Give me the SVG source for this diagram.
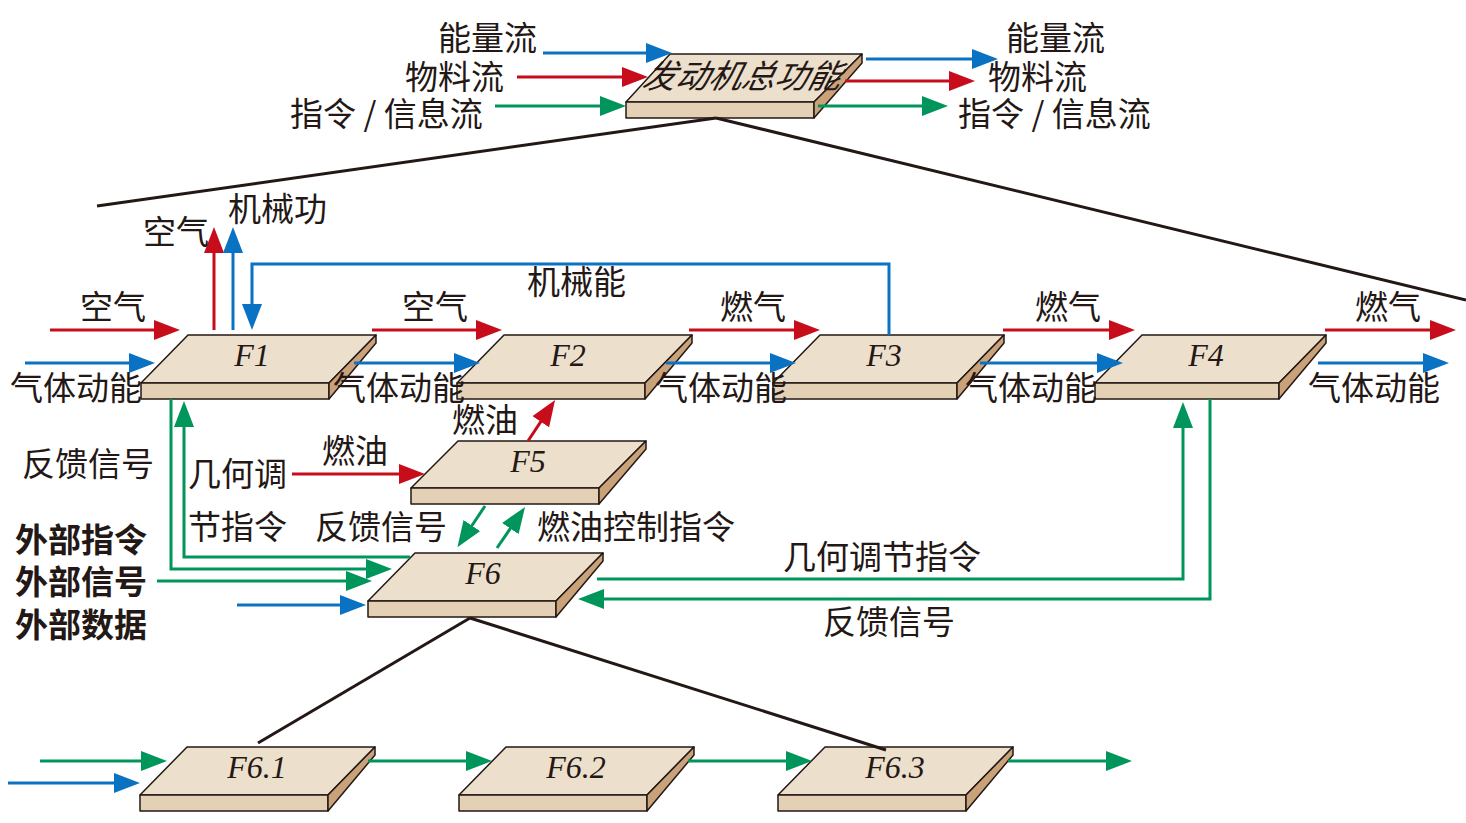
<svg xmlns="http://www.w3.org/2000/svg" width="1466" height="823" viewBox="0 0 1466 823">
<style>
.top{fill:#ecdfcc;stroke:#231815;stroke-width:1.5;stroke-linejoin:round}
.front{fill:#e3d0b5;stroke:#231815;stroke-width:1.5;stroke-linejoin:round}
.side{fill:#c9a27a;stroke:#231815;stroke-width:1.5;stroke-linejoin:round}
.fl{font-family:"Liberation Serif",serif;font-style:italic;font-size:32px;fill:#231815;text-anchor:middle}
.t{font-family:"Noto Sans CJK SC","Noto Sans",sans-serif;font-size:33px;fill:#231815}
.b{font-weight:bold}
.r{stroke:#c70d1b;stroke-width:3;fill:none}
.bl{stroke:#0a72c2;stroke-width:3;fill:none}
.g{stroke:#00955a;stroke-width:3;fill:none}
.k{stroke:#231815;stroke-width:3;fill:none}
</style>
<defs>
<marker id="ar" viewBox="0 0 26 20" markerWidth="26" markerHeight="20" refX="1" refY="10" orient="auto" markerUnits="userSpaceOnUse"><path d="M0,0 L26,10 L0,20 z" fill="#c70d1b"/></marker>
<marker id="ab" viewBox="0 0 26 20" markerWidth="26" markerHeight="20" refX="1" refY="10" orient="auto" markerUnits="userSpaceOnUse"><path d="M0,0 L26,10 L0,20 z" fill="#0a72c2"/></marker>
<marker id="ag" viewBox="0 0 26 20" markerWidth="26" markerHeight="20" refX="1" refY="10" orient="auto" markerUnits="userSpaceOnUse"><path d="M0,0 L26,10 L0,20 z" fill="#00955a"/></marker>
</defs>

<g id="top">
<polygon class="top" points="670,54 862,54 814,102 626,102"/>
<polygon class="front" points="626,102 814,102 814,118 626,118"/>
<polygon class="side" points="814,102 862,54 862,63 814,118"/>
<text class="t" x="743" y="88" text-anchor="middle" font-style="italic" transform="translate(743,76) skewX(-14) translate(-743,-76)">发动机总功能</text>
</g>
<g id="F1">
<polygon class="top" points="188,335 376,335 329,383 141,383"/>
<polygon class="front" points="141,383 329,383 329,399 141,399"/>
<polygon class="side" points="329,383 376,335 376,343 329,399"/>
<text class="fl" x="252" y="366">F1</text>
</g>
<g id="F2">
<polygon class="top" points="504,335 692,335 645,383 457,383"/>
<polygon class="front" points="457,383 645,383 645,399 457,399"/>
<polygon class="side" points="645,383 692,335 692,343 645,399"/>
<text class="fl" x="568" y="366">F2</text>
</g>
<g id="F3">
<polygon class="top" points="820,335 1004,335 957,383 773,383"/>
<polygon class="front" points="773,383 957,383 957,399 773,399"/>
<polygon class="side" points="957,383 1004,335 1004,343 957,399"/>
<text class="fl" x="884" y="366">F3</text>
</g>
<g id="F4">
<polygon class="top" points="1142,335 1326,335 1279,383 1095,383"/>
<polygon class="front" points="1095,383 1279,383 1279,399 1095,399"/>
<polygon class="side" points="1279,383 1326,335 1326,343 1279,399"/>
<text class="fl" x="1206" y="366">F4</text>
</g>
<g id="F5">
<polygon class="top" points="458,441 646,441 599,488 411,488"/>
<polygon class="front" points="411,488 599,488 599,504 411,504"/>
<polygon class="side" points="599,488 646,441 646,449 599,504"/>
<text class="fl" x="528" y="472">F5</text>
</g>
<g id="F6">
<polygon class="top" points="415,553 603,553 556,601 368,601"/>
<polygon class="front" points="368,601 556,601 556,617 368,617"/>
<polygon class="side" points="556,601 603,553 603,561 556,617"/>
<text class="fl" x="483" y="584">F6</text>
</g>
<g id="F6.1">
<polygon class="top" points="187,747 375,747 328,795 140,795"/>
<polygon class="front" points="140,795 328,795 328,811 140,811"/>
<polygon class="side" points="328,795 375,747 375,755 328,811"/>
<text class="fl" x="257" y="778">F6.1</text>
</g>
<g id="F6.2">
<polygon class="top" points="506,747 694,747 647,795 459,795"/>
<polygon class="front" points="459,795 647,795 647,811 459,811"/>
<polygon class="side" points="647,795 694,747 694,755 647,811"/>
<text class="fl" x="576" y="778">F6.2</text>
</g>
<g id="F6.3">
<polygon class="top" points="825,747 1013,747 966,795 778,795"/>
<polygon class="front" points="778,795 966,795 966,811 778,811"/>
<polygon class="side" points="966,795 1013,747 1013,755 966,811"/>
<text class="fl" x="895" y="778">F6.3</text>
</g>

<g id="connectors">
<path class="k" d="M716,118 L97,206"/>
<path class="k" d="M716,118 L1466,300"/>
<path class="k" d="M470,618 L258,743"/>
<path class="k" d="M470,618 L886,750"/>

<path class="bl" d="M543,53 H647" marker-end="url(#ab)"/>
<path class="r" d="M517,77 H623" marker-end="url(#ar)"/>
<path class="g" d="M495,106 H601" marker-end="url(#ag)"/>
<path class="bl" d="M866,59 H973" marker-end="url(#ab)"/>
<path class="r" d="M845,81 H950" marker-end="url(#ar)"/>
<path class="g" d="M818,106 H923" marker-end="url(#ag)"/>

<path class="r" d="M50,330 H155" marker-end="url(#ar)"/>
<path class="bl" d="M25,363 H130" marker-end="url(#ab)"/>
<path class="r" d="M214,330 V252" marker-end="url(#ar)"/>
<path class="bl" d="M233,330 V252" marker-end="url(#ab)"/>
<path class="bl" d="M889,335 V264 H252 V305" marker-end="url(#ab)"/>
<path class="r" d="M372,330 H477" marker-end="url(#ar)"/>
<path class="bl" d="M354,363 H455" marker-end="url(#ab)"/>
<path class="r" d="M689,330 H795" marker-end="url(#ar)"/>
<path class="bl" d="M666,363 H771" marker-end="url(#ab)"/>
<path class="r" d="M1003,330 H1110" marker-end="url(#ar)"/>
<path class="bl" d="M980,363 H1098" marker-end="url(#ab)"/>
<path class="r" d="M1325,330 H1431" marker-end="url(#ar)"/>
<path class="bl" d="M1318,363 H1424" marker-end="url(#ab)"/>

<path class="r" d="M292,474 H400" marker-end="url(#ar)"/>
<path class="r" d="M528,441 L541.3,420.9" marker-end="url(#ar)"/>
<path class="g" d="M485,506 L471.3,526.5" marker-end="url(#ag)"/>
<path class="g" d="M497,548 L510.9,527.7" marker-end="url(#ag)"/>

<path class="g" d="M410,557 H184 V426" marker-end="url(#ag)"/>
<path class="g" d="M171,399 V569 H367" marker-end="url(#ag)"/>
<path class="g" d="M157,581 H347" marker-end="url(#ag)"/>
<path class="bl" d="M237,605 H341" marker-end="url(#ab)"/>
<path class="g" d="M597,579 H1183 V427" marker-end="url(#ag)"/>
<path class="g" d="M1210,399 V599 H603" marker-end="url(#ag)"/>

<path class="g" d="M40,761 H142" marker-end="url(#ag)"/>
<path class="bl" d="M8,783 H115" marker-end="url(#ab)"/>
<path class="g" d="M368,761 H467" marker-end="url(#ag)"/>
<path class="g" d="M688,761 H787" marker-end="url(#ag)"/>
<path class="g" d="M1008,761 H1107" marker-end="url(#ag)"/>
</g>

<g id="labels">
<text class="t" x="438" y="50">能量流</text>
<text class="t" x="405" y="89">物料流</text>
<text class="t" x="290" y="126">指令 / 信息流</text>
<text class="t" x="1006" y="50">能量流</text>
<text class="t" x="988" y="89">物料流</text>
<text class="t" x="958" y="126">指令 / 信息流</text>
<text class="t" x="143" y="244">空气</text>
<text class="t" x="228" y="221">机械功</text>
<text class="t" x="527" y="294">机械能</text>
<text class="t" x="80" y="319">空气</text>
<text class="t" x="402" y="319">空气</text>
<text class="t" x="720" y="319">燃气</text>
<text class="t" x="1035" y="319">燃气</text>
<text class="t" x="1355" y="319">燃气</text>
<text class="t" x="10" y="400">气体动能</text>
<text class="t" x="333" y="400">气体动能</text>
<text class="t" x="655" y="400">气体动能</text>
<text class="t" x="965" y="400">气体动能</text>
<text class="t" x="1308" y="400">气体动能</text>
<text class="t" x="452" y="432">燃油</text>
<text class="t" x="322" y="463">燃油</text>
<text class="t" x="22" y="476">反馈信号</text>
<text class="t" x="188" y="486">几何调</text>
<text class="t" x="188" y="539">节指令</text>
<text class="t" x="315" y="539">反馈信号</text>
<text class="t" x="537" y="539">燃油控制指令</text>
<text class="t" x="783" y="569">几何调节指令</text>
<text class="t" x="823" y="634">反馈信号</text>
<text class="t b" x="15" y="552">外部指令</text>
<text class="t b" x="15" y="594">外部信号</text>
<text class="t b" x="15" y="637">外部数据</text>
</g>
</svg>
